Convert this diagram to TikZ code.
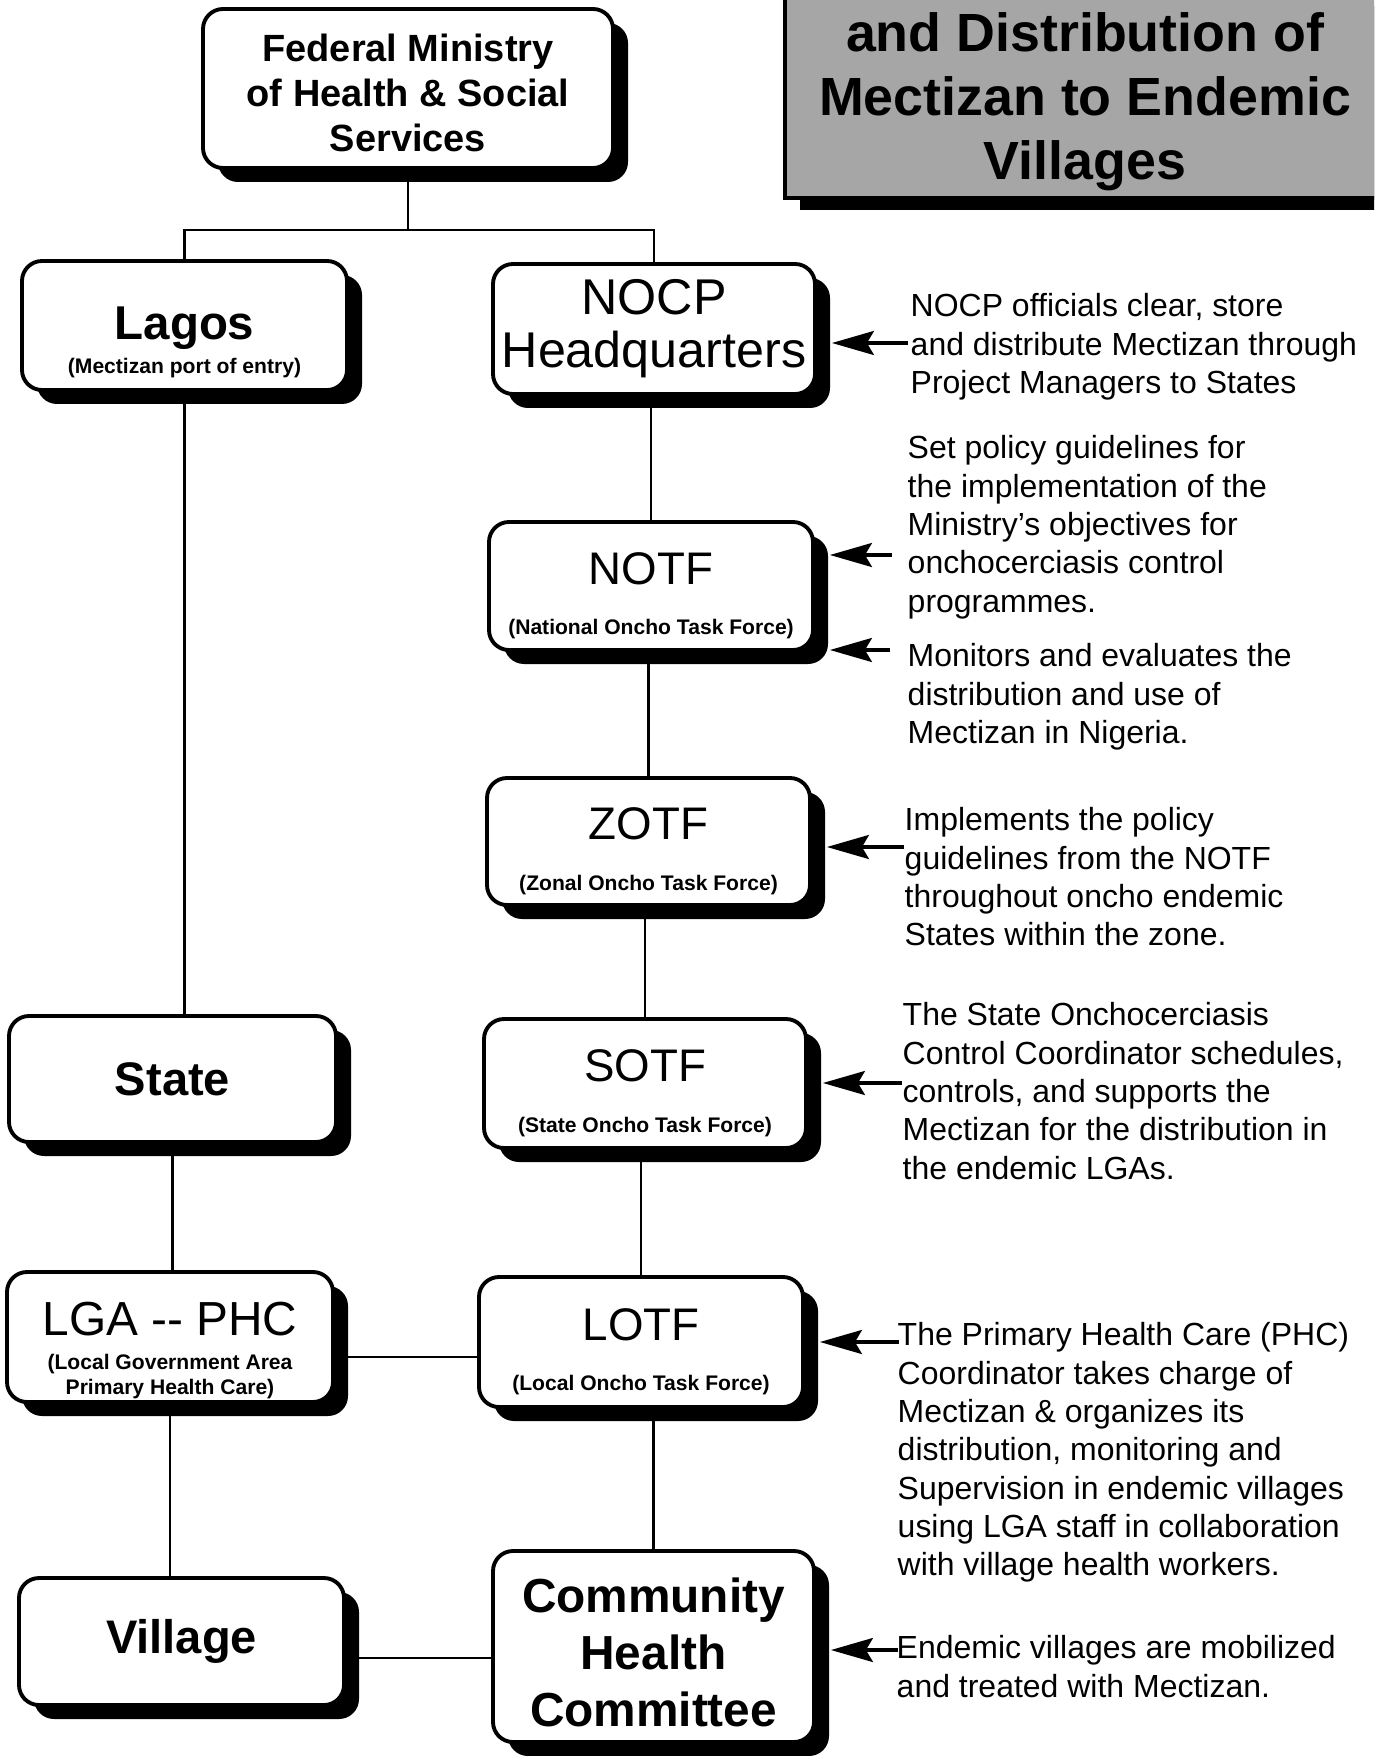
\documentclass[tikz,border=0pt]{standalone}
\usepackage{fontspec}
\setmainfont{Liberation Sans}
\usetikzlibrary{arrows.meta,shadows}

\tikzset{
  orgbox/.style={draw,line width=1.1pt,rounded corners=.2cm,fill=white,align=center,inner sep=0pt,
    drop shadow={shadow xshift=.15cm,shadow yshift=-.14cm,fill=black,opacity=1}},
  titlebox/.style={draw,line width=1.1pt,fill=gray!70,align=center,inner sep=0pt,
    drop shadow={shadow xshift=.15cm,shadow yshift=-.12cm,fill=black,opacity=1}},
  link/.style={line width=.7pt},
  infoarrow/.style={-{Stealth[length=.42cm,width=.24cm,inset=.07cm]},line width=.9pt},
  note/.style={anchor=north west,align=left,inner sep=0pt,font=\fontsize{9.1}{10.9}\selectfont},
}
\newcommand{\subtxt}{\fontsize{6}{7}\selectfont\bfseries}
\newcommand{\lift}[1]{\rule{0pt}{#1}}

\begin{document}
\begin{tikzpicture}
\useasboundingbox (0,0) rectangle (13.74,-17.56);
\clip (0,0) rectangle (13.74,-17.56);

% title panel (cut by the page edge)
\node[titlebox,minimum width=6cm,minimum height=2.04cm,font=\bfseries\fontsize{15.3}{18.2}\selectfont] (title) at (10.85,-.96)
  {\lift{14.6pt}and Distribution of\\Mectizan to Endemic\\Villages};

% boxes
\node[orgbox,minimum width=4.10cm,minimum height=1.59cm,font=\bfseries\fontsize{10.8}{12.8}\selectfont] (fed) at (4.08,-.885)
  {\lift{10.5pt}Federal Ministry\\of Health \& Social\\Services};
\node[orgbox,minimum width=3.25cm,minimum height=1.29cm,font=\bfseries\fontsize{13.5}{16}\selectfont] (lagos) at (1.845,-3.255)
  {\lift{18.8pt}Lagos\\[-6.3pt]{\subtxt (Mectizan port of entry)}};
\node[orgbox,minimum width=3.22cm,minimum height=1.30cm,font=\fontsize{14.3}{15}\selectfont] (nocp) at (6.54,-3.29)
  {NOCP\\Headquarters};
\node[orgbox,minimum width=3.24cm,minimum height=1.28cm,font=\fontsize{13}{16}\selectfont] (notf) at (6.51,-5.86)
  {\lift{14.6pt}NOTF\\[-1.7pt]{\subtxt (National Oncho Task Force)}};
\node[orgbox,minimum width=3.23cm,minimum height=1.27cm,font=\fontsize{13}{16}\selectfont] (zotf) at (6.485,-8.415)
  {\lift{14.6pt}ZOTF\\[-1.7pt]{\subtxt (Zonal Oncho Task Force)}};
\node[orgbox,minimum width=3.22cm,minimum height=1.29cm,font=\fontsize{13}{16}\selectfont] (sotf) at (6.45,-10.835)
  {\lift{14.6pt}SOTF\\[-1.7pt]{\subtxt (State Oncho Task Force)}};
\node[orgbox,minimum width=3.24cm,minimum height=1.30cm,font=\fontsize{13}{16}\selectfont] (lotf) at (6.41,-13.42)
  {\lift{14.6pt}LOTF\\[-1.7pt]{\subtxt (Local Oncho Task Force)}};
\node[orgbox,minimum width=3.21cm,minimum height=1.91cm,font=\bfseries\fontsize{13.6}{16.2}\selectfont] (chc) at (6.535,-16.465)
  {\lift{13.3pt}Community\\Health\\Committee};
\node[orgbox,minimum width=3.27cm,minimum height=1.26cm,font=\bfseries\fontsize{13.4}{16}\selectfont] (state) at (1.725,-10.79)
  {State};
\node[orgbox,minimum width=3.26cm,minimum height=1.30cm,font=\fontsize{13.6}{16}\selectfont] (lga) at (1.70,-13.37)
  {\lift{17.1pt}LGA -{}- PHC\\[-6.3pt]{\subtxt (Local Government Area}\\[-9pt]{\subtxt Primary Health Care)}};
\node[orgbox,minimum width=3.25cm,minimum height=1.27cm,font=\bfseries\fontsize{13.4}{16}\selectfont] (village) at (1.815,-16.415)
  {Village};

% tree lines
\coordinate (split) at (4.08,-2.30);
\draw[link] (fed.south) -- (split);
\draw[link] (lagos.north) |- (split) -| (nocp.north);
\draw[link] (lagos.south) -- (lagos.south |- state.north);
\draw[link] (state.south) -- (state.south |- lga.north);
\draw[link] (lga.south) -- (lga.south |- village.north);
\draw[link] ([yshift=-.2cm]lga.east) -- ([yshift=-.2cm]lga.east -| lotf.west);
\draw[link] ([yshift=-.165cm]village.east) -- ([yshift=-.165cm]village.east -| chc.west);
\draw[link] (notf.north) -- (notf.north |- nocp.south);
\draw[link] (zotf.north) -- (zotf.north |- notf.south);
\draw[link] (sotf.north) -- (sotf.north |- zotf.south);
\draw[link] (lotf.north) -- (lotf.north |- sotf.south);
\draw[link] (chc.north) -- (chc.north |- lotf.south);

% notes
\node[note] (n1) at (9.10,-2.93) {NOCP officials clear, store\\and distribute Mectizan through\\Project Managers to States};
\node[note] (n2) at (9.07,-4.35) {Set policy guidelines for\\the implementation of the\\Ministry's objectives for\\onchocerciasis control\\programmes.};
\node[note] (n3) at (9.07,-6.43) {Monitors and evaluates the\\distribution and use of\\Mectizan in Nigeria.};
\node[note] (n4) at (9.04,-8.07) {Implements the policy\\guidelines from the NOTF\\throughout oncho endemic\\States within the zone.};
\node[note] (n5) at (9.02,-10.02) {The State Onchocerciasis\\Control Coordinator schedules,\\controls, and supports the\\Mectizan for the distribution in\\the endemic LGAs.};
\node[note] (n6) at (8.97,-13.22) {The Primary Health Care (PHC)\\Coordinator takes charge of\\Mectizan \& organizes its\\distribution, monitoring and\\Supervision in endemic villages\\using LGA staff in collaboration\\with village health workers.};
\node[note] (n7) at (8.96,-16.35) {Endemic villages are mobilized\\and treated with Mectizan.};

% arrows into the boxes
\coordinate (a1) at (9.08,-3.43);
\coordinate (a2) at (8.92,-5.55);
\coordinate (a3) at (8.90,-6.50);
\coordinate (a4) at (9.04,-8.47);
\coordinate (a5) at (9.02,-10.83);
\coordinate (a6) at (8.99,-13.42);
\coordinate (a7) at (8.98,-16.50);
\draw[infoarrow] (a1) -- ([xshift=.15cm]a1 -| nocp.east);
\draw[infoarrow] (a2) -- ([xshift=.15cm]a2 -| notf.east);
\draw[infoarrow] (a3) -- ([xshift=.15cm]a3 -| notf.east);
\draw[infoarrow] (a4) -- ([xshift=.15cm]a4 -| zotf.east);
\draw[infoarrow] (a5) -- ([xshift=.15cm]a5 -| sotf.east);
\draw[infoarrow] (a6) -- ([xshift=.15cm]a6 -| lotf.east);
\draw[infoarrow] (a7) -- ([xshift=.15cm]a7 -| chc.east);
\end{tikzpicture}
\end{document}
